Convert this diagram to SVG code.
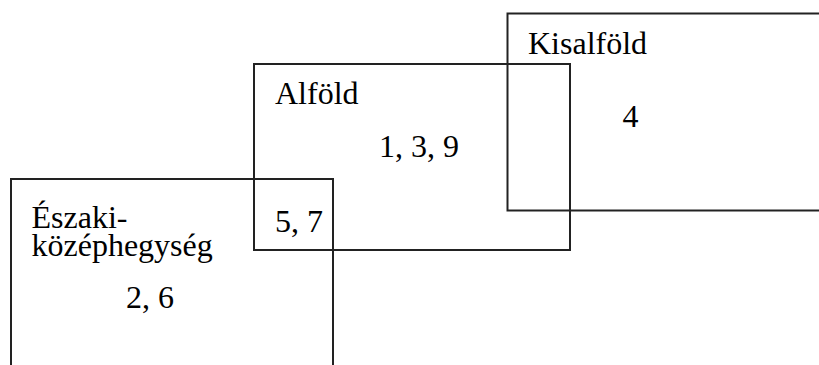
<svg xmlns="http://www.w3.org/2000/svg" width="819" height="365" viewBox="0 0 819 365">
<style>
.box{fill:none;stroke:#222;stroke-width:2}
.t{font-family:"Liberation Serif","Times New Roman",serif;font-size:32px;fill:#000}
</style>
<rect width="819" height="365" fill="#fff"/>
<g id="kisalfold">
<rect class="box" x="507.5" y="13.5" width="330" height="197"/>
<text class="t" x="528" y="54">Kisalföld</text>
<text class="t" x="622.5" y="127">4</text>
</g>
<g id="alfold">
<rect class="box" x="254" y="64" width="316" height="186"/>
<text class="t" x="275" y="104">Alföld</text>
<text class="t" x="379" y="157">1, 3, 9</text>
<text class="t" x="275" y="231.5">5, 7</text>
</g>
<g id="eszaki">
<rect class="box" x="11" y="179" width="322" height="200"/>
<text class="t" x="31.5" y="228">Északi-</text>
<text class="t" x="31.5" y="256">középhegység</text>
<text class="t" x="126" y="308">2, 6</text>
</g>
<g id="connectors"/>
</svg>
